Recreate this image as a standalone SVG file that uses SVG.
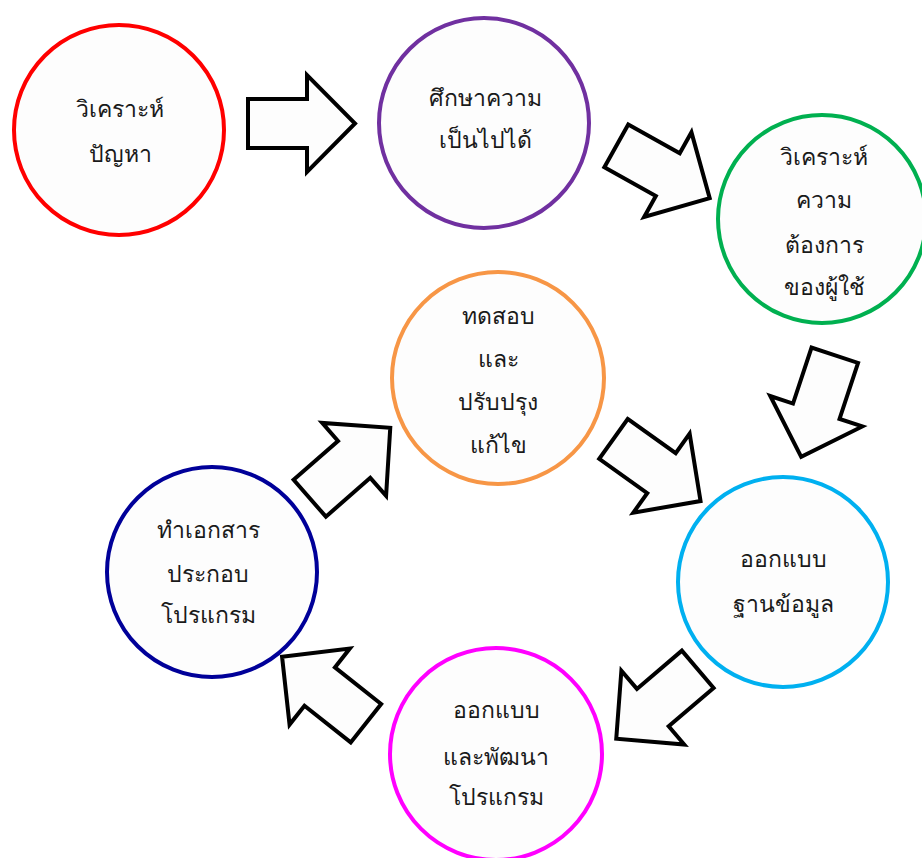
<svg xmlns="http://www.w3.org/2000/svg" xmlns:xlink="http://www.w3.org/1999/xlink" width="922" height="858" viewBox="0 0 922 858">
  <style>
    .step { fill: #fdfdfd; stroke-width: 4; }
    .label { font-family: "Liberation Serif", "DejaVu Serif", serif; font-size: 23px; fill: #1a1a1a; text-anchor: middle; }
    .flow { fill: #fdfdfd; stroke: #000; stroke-width: 4; stroke-linejoin: miter; }
  </style>
  <defs>
    <!-- block arrow pointing right, centred on its own midpoint -->
    <path id="blockArrow" d="M-53.5,-24.5 L5.5,-24.5 L5.5,-48.5 L53.5,0 L5.5,48.5 L5.5,24.5 L-53.5,24.5 Z"/>
  </defs>
  <rect width="922" height="858" fill="#ffffff"/>

  <g id="connectors">
    <use xlink:href="#blockArrow" class="flow" transform="translate(301.5,123.5) rotate(0)"/>
    <use xlink:href="#blockArrow" class="flow" transform="translate(663,172) rotate(29.2)"/>
    <use xlink:href="#blockArrow" class="flow" transform="translate(818,406) rotate(108.3)"/>
    <use xlink:href="#blockArrow" class="flow" transform="translate(657,470) rotate(35.5)"/>
    <use xlink:href="#blockArrow" class="flow" transform="translate(657,704) rotate(139.6)"/>
    <use xlink:href="#blockArrow" class="flow" transform="translate(324,690) rotate(218.4)"/>
    <use xlink:href="#blockArrow" class="flow" transform="translate(350,463) rotate(-41.2)"/>
  </g>

  <g id="analyse-problem">
    <circle class="step" cx="119" cy="130" r="105" stroke="#ff0000"/>
    <text class="label" x="120" y="117">วิเคราะห์</text>
    <text class="label" x="120" y="162">ปัญหา</text>
  </g>

  <g id="feasibility">
    <circle class="step" cx="484" cy="123" r="105" stroke="#7030a0"/>
    <text class="label" x="485" y="106">ศึกษาความ</text>
    <text class="label" x="485" y="148">เป็นไปได้</text>
  </g>

  <g id="user-requirements">
    <circle class="step" cx="822" cy="219" r="104" stroke="#00b050"/>
    <text class="label" x="824" y="165">วิเคราะห์</text>
    <text class="label" x="824" y="208">ความ</text>
    <text class="label" x="824" y="253">ต้องการ</text>
    <text class="label" x="824" y="295">ของผู้ใช้</text>
  </g>

  <g id="test-improve">
    <circle class="step" cx="498" cy="378" r="106" stroke="#f79646"/>
    <text class="label" x="498" y="324">ทดสอบ</text>
    <text class="label" x="498" y="367">และ</text>
    <text class="label" x="498" y="410">ปรับปรุง</text>
    <text class="label" x="498" y="453">แก้ไข</text>
  </g>

  <g id="database-design">
    <circle class="step" cx="783" cy="582" r="105" stroke="#00b0f0"/>
    <text class="label" x="783" y="567">ออกแบบ</text>
    <text class="label" x="783" y="612">ฐานข้อมูล</text>
  </g>

  <g id="program-development">
    <circle class="step" cx="496" cy="754" r="106" stroke="#ff00ff"/>
    <text class="label" x="496" y="718">ออกแบบ</text>
    <text class="label" x="496" y="765">และพัฒนา</text>
    <text class="label" x="496" y="805">โปรแกรม</text>
  </g>

  <g id="documentation">
    <circle class="step" cx="212" cy="572" r="105" stroke="#000099"/>
    <text class="label" x="208" y="538">ทำเอกสาร</text>
    <text class="label" x="208" y="582">ประกอบ</text>
    <text class="label" x="208" y="623">โปรแกรม</text>
  </g>
</svg>
